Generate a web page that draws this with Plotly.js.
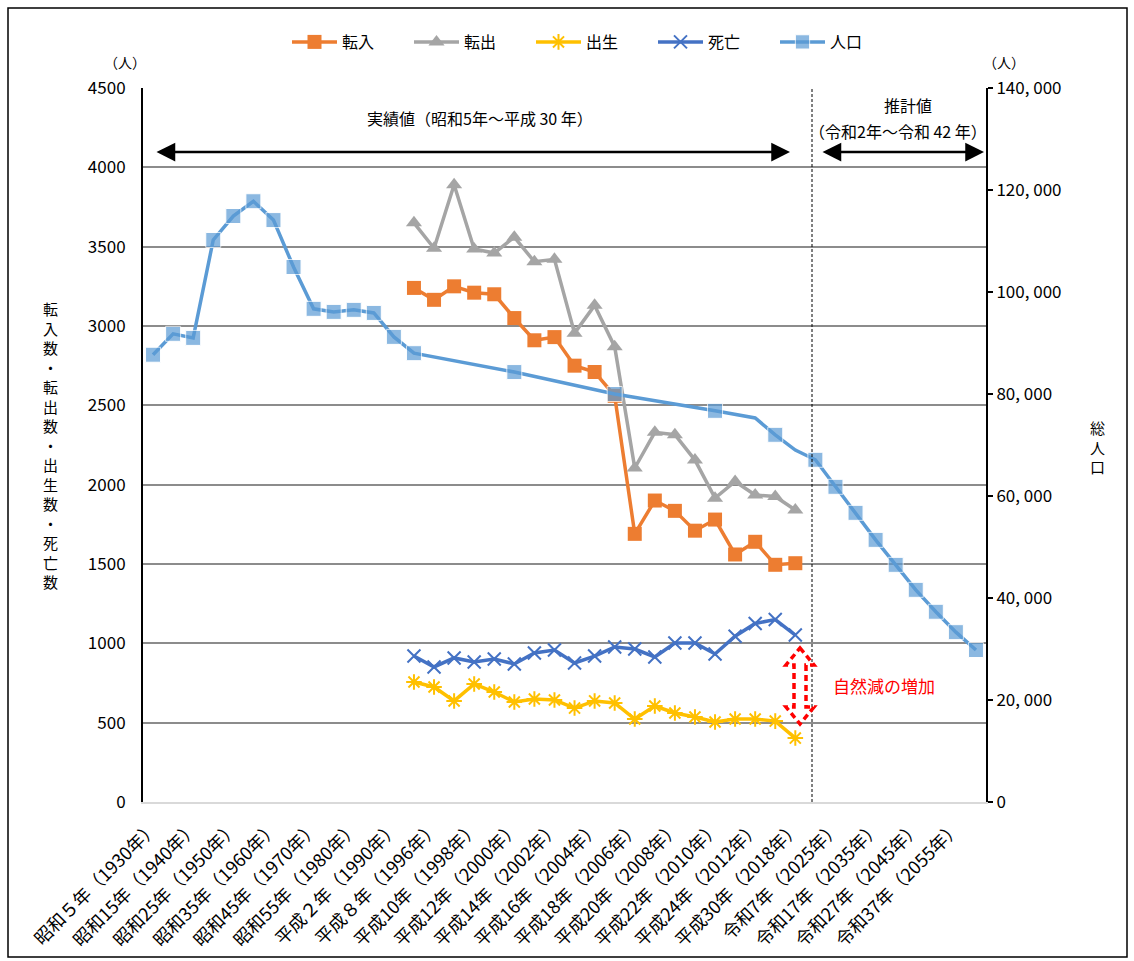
<!DOCTYPE html>
<html>
<head>
<meta charset="utf-8">
<script src="https://cdn.plot.ly/plotly-3.0.1.min.js"></script>
<style>html,body{margin:0;padding:0;background:#fff;}#chart{width:1134px;height:961px;}</style>
</head>
<body>
<div id="chart"></div>
<script>
// ---- categories (x axis) ----
const categories = [
  "昭和５年（1930年）","昭和10年（1935年）","昭和15年（1940年）","昭和20年（1945年）",
  "昭和25年（1950年）","昭和30年（1955年）","昭和35年（1960年）","昭和40年（1965年）",
  "昭和45年（1970年）","昭和50年（1975年）","昭和55年（1980年）","昭和60年（1985年）",
  "平成２年（1990年）","平成７年（1995年）","平成８年（1996年）","平成９年（1997年）",
  "平成10年（1998年）","平成11年（1999年）","平成12年（2000年）","平成13年（2001年）",
  "平成14年（2002年）","平成15年（2003年）","平成16年（2004年）","平成17年（2005年）",
  "平成18年（2006年）","平成19年（2007年）","平成20年（2008年）","平成21年（2009年）",
  "平成22年（2010年）","平成23年（2011年）","平成24年（2012年）","平成27年（2015年）",
  "平成30年（2018年）","令和2年（2020年）","令和7年（2025年）","令和12年（2030年）",
  "令和17年（2035年）","令和22年（2040年）","令和27年（2045年）","令和32年（2050年）",
  "令和37年（2055年）","令和42年（2060年）"
];
// labelled ticks (every other category)
const tickLabels = [
  "昭和５年（1930年）","昭和15年（1940年）","昭和25年（1950年）","昭和35年（1960年）",
  "昭和45年（1970年）","昭和55年（1980年）","平成２年（1990年）","平成８年（1996年）",
  "平成10年（1998年）","平成12年（2000年）","平成14年（2002年）","平成16年（2004年）",
  "平成18年（2006年）","平成20年（2008年）","平成22年（2010年）","平成24年（2012年）",
  "平成30年（2018年）","令和7年（2025年）","令和17年（2035年）","令和27年（2045年）",
  "令和37年（2055年）"
];
// categories that have migration / vital statistics
const flowCategories = [
  "平成７年（1995年）","平成８年（1996年）","平成９年（1997年）","平成10年（1998年）",
  "平成11年（1999年）","平成12年（2000年）","平成13年（2001年）","平成14年（2002年）",
  "平成15年（2003年）","平成16年（2004年）","平成17年（2005年）","平成18年（2006年）",
  "平成19年（2007年）","平成20年（2008年）","平成21年（2009年）","平成22年（2010年）",
  "平成23年（2011年）","平成24年（2012年）","平成27年（2015年）","平成30年（2018年）"
];
// ---- series values ----
const inflow  = [3240,3165,3250,3210,3200,3050,2910,2930,2750,2710,2560,1690,1900,1835,1710,1780,1560,1640,1495,1505];
const outflow = [3650,3490,3890,3485,3460,3560,3405,3420,2955,3130,2870,2105,2330,2315,2155,1915,2020,1935,1925,1840];
const births  = [756,725,637,744,693,630,649,643,592,637,624,523,605,561,536,504,523,523,510,403];
const deaths  = [920,851,908,882,901,870,939,958,876,920,977,964,914,1002,1002,933,1045,1125,1150,1052];
const population = [
  87700,91800,91000,110200,114900,117800,114100,104900,96700,96100,96500,95900,
  91200,88000,null,null,null,null,84300,null,null,null,null,80000,
  null,null,null,null,76700,null,75300,72000,69000,67100,61800,56700,
  51400,46500,41600,37300,33300,29800
];
// population points shown without a marker (non-census estimates)
const populationNoMarker = ["平成24年（2012年）","平成30年（2018年）"];
const rightTickVals = [0,20000,40000,60000,80000,100000,120000,140000];
const rightTickText = ["0","20, 000","40, 000","60, 000","80, 000","100, 000","120, 000","140, 000"];

const FONT = '"Noto Sans CJK JP", "Noto Sans", sans-serif';
const popMarkerSizes = categories.map(c => populationNoMarker.includes(c) ? 0 : 15);

const traces = [
  {name:'転入', x:flowCategories, y:inflow, type:'scatter', mode:'lines+markers',
   line:{color:'#ED7D31', width:3.5}, marker:{symbol:'square', size:14, color:'#ED7D31'}},
  {name:'転出', x:flowCategories, y:outflow, type:'scatter', mode:'lines+markers',
   line:{color:'#A5A5A5', width:3.5}, marker:{symbol:'triangle-up', size:14, color:'#A5A5A5'}},
  {name:'出生', x:flowCategories, y:births, type:'scatter', mode:'lines+markers',
   line:{color:'#FFC000', width:3.5}, marker:{symbol:'asterisk-open', size:13, color:'#FFC000', line:{color:'#FFC000', width:2}}},
  {name:'死亡', x:flowCategories, y:deaths, type:'scatter', mode:'lines+markers',
   line:{color:'#4472C4', width:3.5}, marker:{symbol:'x-thin-open', size:13, color:'#4472C4', line:{color:'#4472C4', width:2}}},
  {name:'人口', x:categories, y:population, yaxis:'y2', type:'scatter', mode:'lines+markers', connectgaps:true,
   line:{color:'#5B9BD5', width:3.5}, marker:{symbol:'square', size:popMarkerSizes, color:'#5B9BD5'}}
];

const px = v => (v-143)/843;       // pixel -> paper x
const py = v => (802-v)/714;       // pixel -> paper y
const txt = (text, x, y, size, color) => ({text, xref:'paper', yref:'paper', x:px(x), y:py(y),
  xanchor:'center', yanchor:'middle', showarrow:false, font:{size:size, color:color||'#000'}});

const layout = {
  width:1134, height:961,
  margin:{l:143, r:148, t:88, b:159, pad:0},
  paper_bgcolor:'#fff', plot_bgcolor:'#fff',
  font:{family:FONT, size:15, color:'#000'},
  showlegend:true,
  legend:{orientation:'h', x:px(592), xanchor:'center', y:py(42), yanchor:'middle',
          font:{size:16}, itemwidth:45, entrywidth:62, entrywidthmode:'pixels',
          tracegroupgap:0, bgcolor:'rgba(0,0,0,0)'},
  xaxis:{type:'category', categoryorder:'array', categoryarray:categories,
         range:[-0.5, categories.length-0.5], tickmode:'array', tickvals:tickLabels, ticktext:tickLabels,
         tickangle:-45, tickfont:{size:18}, showgrid:false, zeroline:false,
         showline:true, linecolor:'#d9d9d9', linewidth:2, ticks:'outside', ticklen:6, tickcolor:'rgba(0,0,0,0)'},
  yaxis:{range:[0,4500], dtick:500, tick0:0, showgrid:true, gridcolor:'#8c8c8c', gridwidth:2,
         zeroline:false, showline:true, linecolor:'#000', linewidth:2,
         ticks:'outside', ticklen:12, tickcolor:'rgba(0,0,0,0)', tickfont:{size:17}},
  yaxis2:{range:[0,140000], overlaying:'y', side:'right', tickmode:'array',
          tickvals:rightTickVals, ticktext:rightTickText, showgrid:false, zeroline:false,
          showline:true, linecolor:'#000', linewidth:2, ticks:'outside', ticklen:5,
          tickcolor:'#000', tickwidth:1.5, tickfont:{size:17}},
  shapes:[
    // outer border
    {type:'rect', xref:'paper', yref:'paper', x0:px(8), x1:px(1127), y0:py(957), y1:py(8),
     line:{color:'#000', width:1.5}, fillcolor:'rgba(0,0,0,0)'},
    // dashed divider between actual / projected
    {type:'line', xref:'paper', yref:'paper', x0:px(812), x1:px(812), y0:0, y1:1,
     line:{color:'#000', width:1, dash:'3px,2px'}},
    // red dashed block double arrow
    {type:'path', xref:'paper', yref:'paper', xsizemode:'pixel', ysizemode:'pixel',
     xanchor:px(800), yanchor:py(686),
     path:'M 0,38 L 14,21 L 6,21 L 6,-21 L 14,-21 L 0,-38 L -14,-21 L -6,-21 L -6,21 L -14,21 Z',
     line:{color:'#FF0000', width:3.5, dash:'6px,4px'}, fillcolor:'rgba(0,0,0,0)'}
  ],
  annotations:[
    txt('（人）', 125, 62, 14),
    txt('（人）', 1004, 62, 14),
    txt('転<br>入<br>数<br>・<br>転<br>出<br>数<br>・<br>出<br>生<br>数<br>・<br>死<br>亡<br>数', 50, 445, 15),
    txt('総<br>人<br>口', 1097, 447, 15),
    txt('実績値（昭和5年～平成 30 年）', 480, 118, 16),
    txt('推計値', 908, 105, 16),
    txt('（令和2年～令和 42 年）', 898, 131, 16),
    txt('自然減の増加', 884, 685, 17, '#FF0000'),
    // double arrows
    {text:'', xref:'paper', yref:'paper', x:px(790), y:py(152), ax:-(790-155), ay:0, axref:'pixel', ayref:'pixel',
     showarrow:true, arrowside:'end+start', arrowhead:2, arrowsize:1.5, arrowwidth:2.5, arrowcolor:'#000',
     startarrowhead:2, startarrowsize:1.5},
    {text:'', xref:'paper', yref:'paper', x:px(984), y:py(152), ax:-(984-821), ay:0, axref:'pixel', ayref:'pixel',
     showarrow:true, arrowside:'end+start', arrowhead:2, arrowsize:1.5, arrowwidth:2.5, arrowcolor:'#000',
     startarrowhead:2, startarrowsize:1.5}
  ]
};

Plotly.newPlot('chart', traces, layout, {displayModeBar:false, responsive:false});
</script>
</body>
</html>
